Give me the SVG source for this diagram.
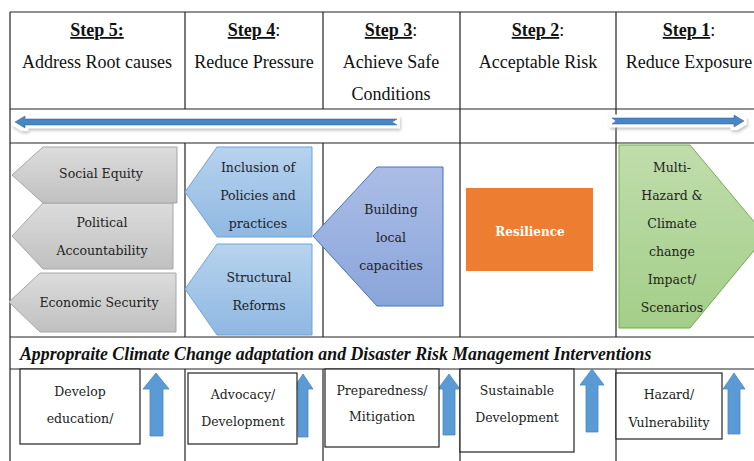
<svg xmlns="http://www.w3.org/2000/svg" width="754" height="461" viewBox="0 0 754 461">
<defs>
<style>
.grid{stroke:#222;stroke-width:1.2;fill:none}
.hd{font-family:"Liberation Serif","Times New Roman",serif;font-size:18px;fill:#111;text-anchor:middle}
.hb{font-weight:bold;text-decoration:underline}
.sh{font-family:"DejaVu Serif",serif;font-size:12.5px;fill:#222;text-anchor:middle}
.bx{fill:#fff;stroke:#222;stroke-width:1.2}
.up{fill:#5B9BD5;stroke:#4A86C0;stroke-width:0.8}
.it{font-family:"Liberation Serif","Times New Roman",serif;font-size:17.8px;font-weight:bold;font-style:italic;fill:#111}
</style>
<linearGradient id="gGray" x1="0" y1="0" x2="0" y2="1"><stop offset="0" stop-color="#DCDCDC"/><stop offset="1" stop-color="#C0C0C0"/></linearGradient>
<linearGradient id="gBlue" x1="0" y1="0" x2="0" y2="1"><stop offset="0" stop-color="#B7D3EE"/><stop offset="1" stop-color="#8FB8E2"/></linearGradient>
<linearGradient id="gPeri" x1="0" y1="0" x2="0" y2="1"><stop offset="0" stop-color="#ABBDE6"/><stop offset="1" stop-color="#8AA5DA"/></linearGradient>
<linearGradient id="gGreen" x1="0" y1="0" x2="0" y2="1"><stop offset="0" stop-color="#C0DDAC"/><stop offset="1" stop-color="#A3CE88"/></linearGradient>
<filter id="glow" x="-5%" y="-100%" width="110%" height="300%">
<feMorphology in="SourceAlpha" operator="dilate" radius="3" result="d"/>
<feGaussianBlur in="d" stdDeviation="1.5" result="b"/>
<feOffset in="b" dx="1" dy="2" result="o"/>
<feFlood flood-color="#999" flood-opacity="0.6"/>
<feComposite in2="o" operator="in" result="sh"/>
<feFlood flood-color="#fff"/>
<feComposite in2="d" operator="in" result="wh"/>
<feMerge><feMergeNode in="sh"/><feMergeNode in="wh"/><feMergeNode in="SourceGraphic"/></feMerge>
</filter>
</defs>
<rect width="754" height="461" fill="#fff"/>

<g id="table">
<line class="grid" x1="10" y1="12" x2="754" y2="12"/>
<line class="grid" x1="10" y1="109" x2="754" y2="109"/>
<line class="grid" x1="10" y1="143" x2="754" y2="143"/>
<line class="grid" x1="10" y1="337" x2="754" y2="337"/>
<line class="grid" x1="10" y1="369" x2="754" y2="369"/>
<line class="grid" x1="10" y1="12" x2="10" y2="461"/>
<line class="grid" x1="185" y1="12" x2="185" y2="109"/>
<line class="grid" x1="323" y1="12" x2="323" y2="109"/>
<line class="grid" x1="185" y1="143" x2="185" y2="337"/>
<line class="grid" x1="323" y1="143" x2="323" y2="337"/>
<line class="grid" x1="185" y1="369" x2="185" y2="461"/>
<line class="grid" x1="323" y1="369" x2="323" y2="461"/>
<line class="grid" x1="460" y1="12" x2="460" y2="337"/>
<line class="grid" x1="616" y1="12" x2="616" y2="337"/>
<line class="grid" x1="460" y1="369" x2="460" y2="461"/>
<line class="grid" x1="616" y1="369" x2="616" y2="461"/>
</g>

<g id="headers">
<text class="hd" x="97" y="36"><tspan class="hb">Step 5:</tspan></text>
<text class="hd" x="97" y="68">Address Root causes</text>
<text class="hd" x="254" y="36"><tspan class="hb">Step 4</tspan>:</text>
<text class="hd" x="254" y="68">Reduce Pressure</text>
<text class="hd" x="391" y="36"><tspan class="hb">Step 3</tspan>:</text>
<text class="hd" x="391" y="68">Achieve Safe</text>
<text class="hd" x="391" y="100">Conditions</text>
<text class="hd" x="538" y="36"><tspan class="hb">Step 2</tspan>:</text>
<text class="hd" x="538" y="68">Acceptable Risk</text>
<text class="hd" x="689" y="36"><tspan class="hb">Step 1</tspan>:</text>
<text class="hd" x="689" y="68">Reduce Exposure</text>
</g>

<g id="connectors">
<path filter="url(#glow)" d="M15,122 L25,116 L25,119 L397,119 L392,122 L397,125 L25,125 L25,128 Z" fill="#4A86C5" stroke="#2F6AA8" stroke-width="0.8"/>
<path filter="url(#glow)" d="M612,118 L734,118 L734,115 L744,121 L734,127 L734,124 L612,124 L616,121 Z" fill="#4A86C5" stroke="#2F6AA8" stroke-width="0.8"/>
<path class="up" d="M156,373 L169,389 L163,389 L163,436 L150,436 L150,389 L143,389 Z"/>
<path class="up" d="M303,374 L313,389 L308,389 L308,437 L298,437 L298,389 L293,389 Z"/>
<path class="up" d="M449,374 L460,389 L455,389 L455,435 L443,435 L443,389 L438,389 Z"/>
<path class="up" d="M592,369 L604,385 L598,385 L598,432 L586,432 L586,385 L580,385 Z"/>
<path class="up" d="M734,373 L745,389 L740,389 L740,434 L728,434 L728,389 L723,389 Z"/>
</g>

<g id="political-accountability">
<polygon points="43,203 173,203 173,269 43,269 12,236" fill="url(#gGray)" stroke="#A6A6A6"/>
<text class="sh" x="102" y="227">Political</text>
<text class="sh" x="102" y="255">Accountability</text>
</g>
<g id="social-equity">
<polygon points="43,147 177,147 177,203 43,203 12,175" fill="url(#gGray)" stroke="#A6A6A6"/>
<text class="sh" x="101" y="178">Social Equity</text>
</g>
<g id="economic-security">
<polygon points="40,273 176,273 176,332 40,332 9,302" fill="url(#gGray)" stroke="#A6A6A6"/>
<text class="sh" x="99" y="307">Economic Security</text>
</g>
<g id="inclusion-policies">
<polygon points="217,147 312,147 312,237 217,237 185,192" fill="url(#gBlue)" stroke="#6FA4D8"/>
<text class="sh" x="258" y="172">Inclusion of</text>
<text class="sh" x="258" y="200">Policies and</text>
<text class="sh" x="258" y="228">practices</text>
</g>
<g id="structural-reforms">
<polygon points="217,244 312,244 312,335 217,335 185,289" fill="url(#gBlue)" stroke="#6FA4D8"/>
<text class="sh" x="259" y="282">Structural</text>
<text class="sh" x="259" y="310">Reforms</text>
</g>
<g id="building-local-capacities">
<polygon points="377,167 443,167 443,306 377,306 313,236" fill="url(#gPeri)" stroke="#4472C4"/>
<text class="sh" x="391" y="214">Building</text>
<text class="sh" x="391" y="242">local</text>
<text class="sh" x="391" y="270">capacities</text>
</g>
<g id="resilience">
<rect x="466" y="188" width="127" height="83" fill="#ED7D31"/>
<text class="sh" x="530" y="236" style="fill:#fff;font-weight:bold;font-size:12px">Resilience</text>
</g>
<g id="multi-hazard">
<polygon points="619,145 690,145 766,236 690,328 619,328" fill="url(#gGreen)" stroke="#70AD47"/>
<text class="sh" x="672" y="172">Multi-</text>
<text class="sh" x="672" y="200">Hazard &amp;</text>
<text class="sh" x="672" y="228">Climate</text>
<text class="sh" x="672" y="256">change</text>
<text class="sh" x="672" y="284">Impact/</text>
<text class="sh" x="672" y="312">Scenarios</text>
</g>

<g id="interventions-title">
<text class="it" x="20" y="360">Appropraite Climate Change adaptation and Disaster Risk Management Interventions</text>
</g>

<g id="develop-education">
<rect class="bx" x="20" y="369" width="120" height="75"/>
<text class="sh" x="80" y="396">Develop</text>
<text class="sh" x="80" y="423">education/</text>
</g>
<g id="advocacy-development">
<rect class="bx" x="188" y="373" width="109" height="71"/>
<text class="sh" x="243" y="399">Advocacy/</text>
<text class="sh" x="243" y="426">Development</text>
</g>
<g id="preparedness-mitigation">
<rect class="bx" x="325" y="369" width="114" height="78"/>
<text class="sh" x="382" y="395">Preparedness/</text>
<text class="sh" x="382" y="421">Mitigation</text>
</g>
<g id="sustainable-development">
<rect class="bx" x="460" y="369" width="114" height="83"/>
<text class="sh" x="517" y="395">Sustainable</text>
<text class="sh" x="517" y="422">Development</text>
</g>
<g id="hazard-vulnerability">
<rect class="bx" x="616" y="373" width="106" height="66"/>
<text class="sh" x="669" y="399">Hazard/</text>
<text class="sh" x="669" y="427">Vulnerability</text>
</g>
</svg>
